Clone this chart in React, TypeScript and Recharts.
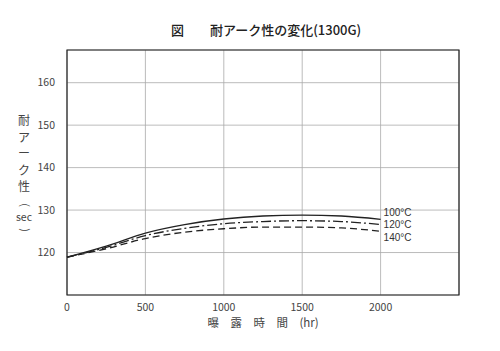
import { LineChart, Line, XAxis, YAxis, CartesianGrid, ReferenceArea } from 'recharts';

const hours = [0, 250, 500, 750, 1000, 1250, 1500, 1750, 2000];
const temp100 = [118.9, 121.5, 124.6, 126.6, 127.9, 128.6, 128.8, 128.6, 127.8];
const temp120 = [118.9, 121.2, 124.0, 125.7, 126.8, 127.3, 127.5, 127.3, 126.6];
const temp140 = [118.9, 120.9, 123.3, 124.8, 125.6, 126.0, 126.0, 125.8, 125.0];
const seriesNames = ['100°C', '120°C', '140°C'];
const xTicks = [0, 500, 1000, 1500, 2000];
const yTicks = [120, 130, 140, 150, 160];
const yLabelChars = ['耐', 'ア', 'ー', 'ク', '性'];

const data = hours.map((h, i) => ({
  h,
  t100: temp100[i],
  t120: temp120[i],
  t140: temp140[i],
}));

const FONT = '"Noto Sans CJK JP", "Noto Sans", sans-serif';
const INK = '#222';
const last = hours.length - 1;

const endLabel = (text: string, dy: number) => (props: any) => {
  if (props.index !== last) return <g />;
  return (
    <text x={props.x + 3} y={props.y + dy} fontSize={10} fill="#333" fontFamily='"Liberation Sans", sans-serif' dominantBaseline="middle">
      {text}
    </text>
  );
};

const YTitle = () => (
  <g fontFamily={FONT} fill="#444" fontSize={12}>
    {yLabelChars.map((c, i) => (
      <text key={c} x={24} y={125 + i * 16.5} textAnchor="middle">
        {c}
      </text>
    ))}
    <text x={0} y={0} fontSize={11} textAnchor="middle" dominantBaseline="middle" transform="translate(24,205) rotate(90)">(</text>
    <text x={24} y={218} textAnchor="middle" dominantBaseline="middle" fontSize={10.5}>sec</text>
    <text x={0} y={0} fontSize={11} textAnchor="middle" dominantBaseline="middle" transform="translate(24,230) rotate(90)">)</text>
  </g>
);

const App = () => {
  return (
    <div style={{ position: 'absolute', left: 0, top: 0, width: 500, height: 351, background: '#fff' }}>
      <svg width={500} height={351} style={{ position: 'absolute', left: 0, top: 0 }}>
        <text x={171} y={35} fontSize={13} fontFamily={FONT} fill="#222" fontWeight={500}>図</text>
        <text x={210} y={35} fontSize={13} fontFamily={FONT} fill="#222" fontWeight={500}>耐アーク性の変化(1300G)</text>
        <YTitle />
        <text x={263} y={327} fontSize={11.5} fontFamily={FONT} fill="#444" textAnchor="middle">
          曝　露　時　間　(hr)
        </text>
      </svg>
      <div style={{ position: 'absolute', left: 0, top: 0 }}>
        <LineChart width={500} height={351} data={data} margin={{ top: 50, right: 41, bottom: 26, left: 0 }}>
          <CartesianGrid stroke="#aaa" strokeWidth={0.8} />
          <ReferenceArea x1={0} x2={2500} y1={110} y2={167.7} fill="none" stroke={INK} strokeWidth={1.2} strokeOpacity={1} />
          <XAxis
            dataKey="h"
            type="number"
            domain={[0, 2500]}
            ticks={xTicks}
            tickLine={false}
            axisLine={false}
            height={30}
            tick={{ fontSize: 10.5, fill: '#444', fontFamily: FONT }}
            tickMargin={3}
          />
          <YAxis
            type="number"
            domain={[110, 167.7]}
            ticks={yTicks}
            tickLine={false}
            axisLine={false}
            width={67}
            tick={{ fontSize: 10.5, fill: '#444', fontFamily: FONT }}
            tickMargin={6}
          />
          <Line dataKey="t100" type="monotone" stroke={INK} strokeWidth={1.3} dot={false} isAnimationActive={false} label={endLabel(seriesNames[0], -6)} />
          <Line dataKey="t120" type="monotone" stroke={INK} strokeWidth={1.3} strokeDasharray="10 3 2 3" dot={false} isAnimationActive={false} label={endLabel(seriesNames[1], 1)} />
          <Line dataKey="t140" type="monotone" stroke={INK} strokeWidth={1.3} strokeDasharray="7 4" dot={false} isAnimationActive={false} label={endLabel(seriesNames[2], 7)} />
        </LineChart>
      </div>
    </div>
  );
};

export default App;
